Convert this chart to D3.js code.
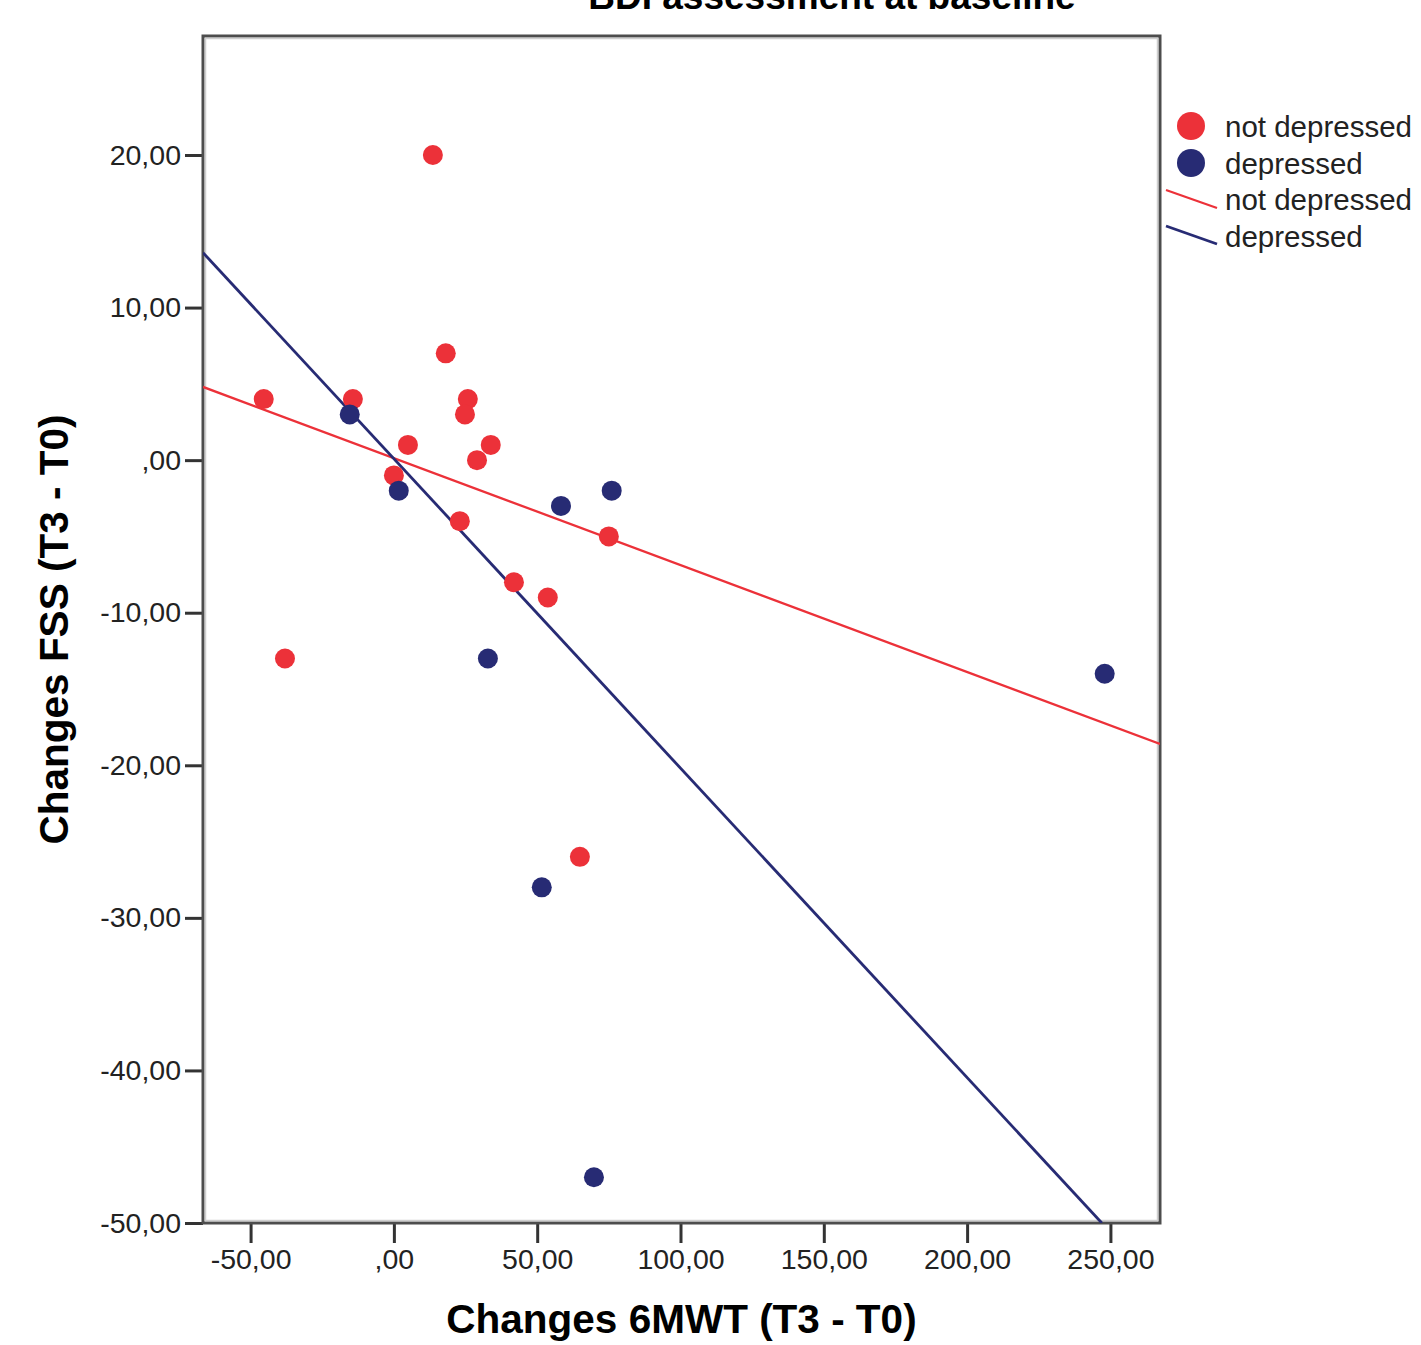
<!DOCTYPE html>
<html>
<head>
<meta charset="utf-8">
<script src="https://cdn.jsdelivr.net/npm/d3@7"></script>
<style>
  body { margin: 0; background: #fff; }
  svg { display: block; font-family: "Liberation Sans", Arial, sans-serif; }
</style>
</head>
<body>
<svg width="1421" height="1345"></svg>
<script>
// values: x = change 6MWT, y = change FSS
var notDepX = [13.6, -45.4, -14.3, 18.1, 25.8, 24.8, 4.9, 33.8, 29, 0, 23, 75, 41.9, 53.7, -38, 64.9];
var notDepY = [20, 4, 4, 7, 4, 3, 1, 1, 0, -1, -4, -5, -8, -9, -13, -26];
var depX = [-15.4, 1.7, 58.3, 76, 32.8, 248, 51.6, 69.8];
var depY = [3, -2, -3, -2, -13, -14, -28, -47];

// fit lines, endpoints as seen in the picture
var notDepFit = [[-66.6, 4.8], [267.3, -18.6]];
var depFit = [[-66.6, 13.6], [247, -50]];

var xTicks = [-50, 0, 50, 100, 150, 200, 250];
var yTicks = [20, 10, 0, -10, -20, -30, -40, -50];
var legendItems = ["not depressed", "depressed", "not depressed", "depressed"];

var red = "#ec3139", blue = "#272b74";

var plotL = 203, plotR = 1160, plotT = 36, plotB = 1223;

var svg = d3.select("svg");

var x = d3.scaleLinear().domain([-66.6, 267.3]).range([plotL, plotR]);
var y = d3.scaleLinear().domain([-50, 27.8]).range([plotB, plotT]);

// comma decimal labels like SPSS ("20,00", ",00")
function fmt(v) {
  if (v === 0) return ",00";
  return d3.format(".2f")(v).replace(".", ",").replace("−", "-");
}

svg.append("defs").append("clipPath").attr("id", "plot")
  .append("rect").attr("x", plotL).attr("y", plotT)
  .attr("width", plotR - plotL).attr("height", plotB - plotT);

// title, cut off at the top like in the source image
svg.append("text")
  .attr("x", 832).attr("y", 9)
  .attr("text-anchor", "middle")
  .attr("font-weight", "bold")
  .attr("font-size", 37)
  .text("BDI assessment at baseline");

// axes
var yAxis = d3.axisLeft(y).tickValues(yTicks).tickFormat(fmt).tickSize(18).tickPadding(4);
var gy = svg.append("g").attr("transform", "translate(" + plotL + ",0)").call(yAxis);
var xAxis = d3.axisBottom(x).tickValues(xTicks).tickFormat(fmt).tickSize(20).tickPadding(6);
var gx = svg.append("g").attr("transform", "translate(0," + plotB + ")").call(xAxis);

[gy, gx].forEach(function(g) {
  g.select(".domain").remove();
  g.selectAll(".tick line").attr("stroke", "#333").attr("stroke-width", 3);
  g.selectAll(".tick text").attr("font-size", 28.5).attr("fill", "#222");
});

// frame
svg.append("rect")
  .attr("x", plotL).attr("y", plotT)
  .attr("width", plotR - plotL).attr("height", plotB - plotT)
  .attr("fill", "none").attr("stroke", "#4d4d4d").attr("stroke-width", 3);
svg.append("rect")
  .attr("x", plotL + 2.5).attr("y", plotT + 2.5)
  .attr("width", plotR - plotL - 5).attr("height", plotB - plotT - 5)
  .attr("fill", "none").attr("stroke", "#cfcfcf").attr("stroke-width", 1.5);

// axis titles
svg.append("text")
  .attr("x", (plotL + plotR) / 2).attr("y", 1333)
  .attr("text-anchor", "middle")
  .attr("font-weight", "bold").attr("font-size", 40.5)
  .text("Changes 6MWT (T3 - T0)");

svg.append("text")
  .attr("transform", "translate(68," + (plotT + plotB) / 2 + ") rotate(-90)")
  .attr("text-anchor", "middle")
  .attr("font-weight", "bold").attr("font-size", 40.5)
  .text("Changes FSS (T3 - T0)");

// fit lines
var line = d3.line().x(function(d) { return x(d[0]); }).y(function(d) { return y(d[1]); });
var plot = svg.append("g").attr("clip-path", "url(#plot)");

plot.append("path").datum(notDepFit).attr("d", line)
  .attr("fill", "none").attr("stroke", red).attr("stroke-width", 2.3);
plot.append("path").datum(depFit).attr("d", line)
  .attr("fill", "none").attr("stroke", blue).attr("stroke-width", 2.8);

// points
plot.selectAll("circle.nd")
  .data(d3.zip(notDepX, notDepY))
  .enter().append("circle")
  .attr("class", "nd")
  .attr("cx", function(d) { return x(d[0]); })
  .attr("cy", function(d) { return y(d[1]); })
  .attr("r", 10)
  .attr("fill", red);

plot.selectAll("circle.dp")
  .data(d3.zip(depX, depY))
  .enter().append("circle")
  .attr("class", "dp")
  .attr("cx", function(d) { return x(d[0]); })
  .attr("cy", function(d) { return y(d[1]); })
  .attr("r", 10)
  .attr("fill", blue);

// legend
var legend = svg.append("g");
var rowY = [126, 163, 199, 236];
legend.append("circle").attr("cx", 1191).attr("cy", rowY[0]).attr("r", 14).attr("fill", red);
legend.append("circle").attr("cx", 1191).attr("cy", rowY[1]).attr("r", 14).attr("fill", blue);
legend.append("line").attr("x1", 1166).attr("y1", 190).attr("x2", 1217).attr("y2", 208)
  .attr("stroke", red).attr("stroke-width", 2.3);
legend.append("line").attr("x1", 1166).attr("y1", 226).attr("x2", 1217).attr("y2", 244)
  .attr("stroke", blue).attr("stroke-width", 2.8);

legend.selectAll("text")
  .data(legendItems)
  .enter().append("text")
  .attr("x", 1225)
  .attr("y", function(d, i) { return rowY[i] + 11; })
  .attr("font-size", 29.5)
  .attr("fill", "#222")
  .text(function(d) { return d; });
</script>
</body>
</html>
